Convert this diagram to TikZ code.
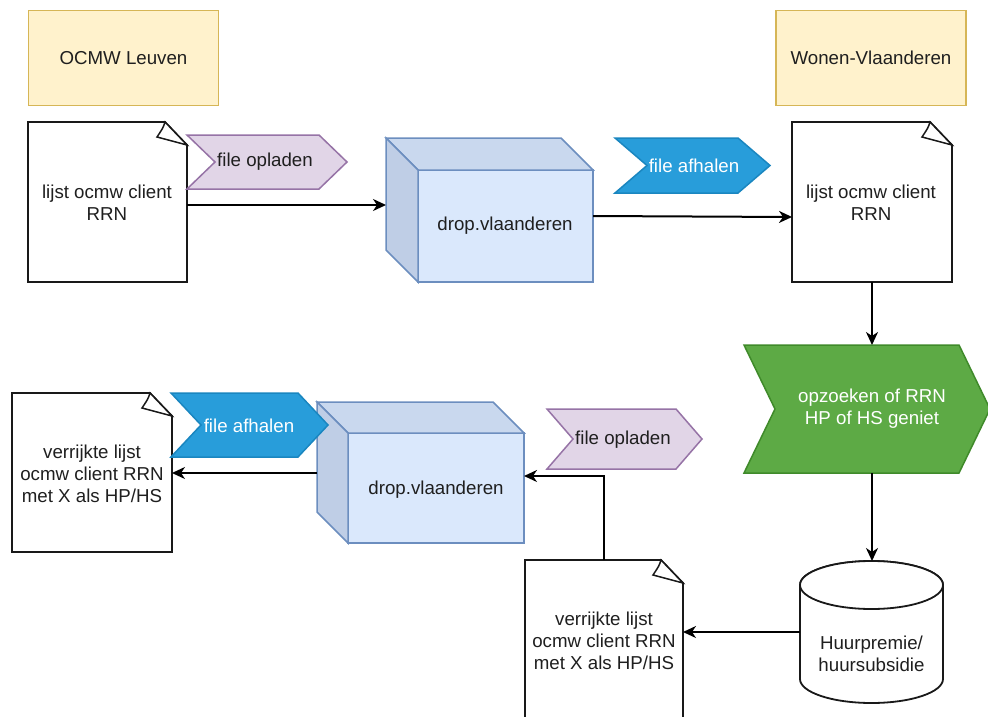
\documentclass[tikz,border=0pt]{standalone}
\usepackage{fontspec}
\setmainfont{Liberation Sans}
\usetikzlibrary{arrows.meta}
\definecolor{yfill}{HTML}{FFF2CC}
\definecolor{ydraw}{HTML}{D6B656}
\definecolor{pfill}{HTML}{E1D5E7}
\definecolor{pdraw}{HTML}{9673A6}
\definecolor{bfill}{HTML}{289DDA}
\definecolor{bdraw}{HTML}{1A86C0}
\definecolor{gfill}{HTML}{5DAA45}
\definecolor{gdraw}{HTML}{3F8A2A}
\definecolor{cfill}{HTML}{DAE8FC}
\definecolor{ctop}{HTML}{C9D8EE}
\definecolor{cside}{HTML}{BFCEE6}
\definecolor{cdraw}{HTML}{6C8EBF}
\tikzset{
  lbl/.style={font=\fontsize{18.7}{22}\selectfont, align=center, inner sep=0pt, text=black!88},
  wlbl/.style={lbl, text=white},
  ybox/.style={lbl, draw=ydraw, fill=yfill, line width=1.8pt, minimum width=190pt, minimum height=95pt},
  docline/.style={draw=black!90, line width=1.8pt, fill=white, line join=miter},
  cubeline/.style={draw=cdraw, line width=1.5pt, line join=miter},
  conn/.style={draw=black, line width=2pt, -{Stealth[length=13pt,width=12pt,inset=4pt]}}
}
\newcommand{\mydoc}[4]{%
  \draw[docline] (#1,#2) -- ({#3-22},#2) -- (#3,{#2+23}) -- (#3,#4) -- (#1,#4) -- cycle;
  \draw[docline, line width=1.5pt] ({#3-22},#2) .. controls ({#3-24},{#2+6}) .. ({#3-30},{#2+15}) -- (#3,{#2+23}) -- cycle;
}
\newcommand{\mycube}[5]{%
  \draw[cubeline, fill=cfill] ({#1+#5},{#2+#5}) rectangle (#3,#4);
  \draw[cubeline, fill=ctop] (#1,#2) -- ({#3-#5},#2) -- (#3,{#2+#5}) -- ({#1+#5},{#2+#5}) -- cycle;
  \draw[cubeline, fill=cside] (#1,#2) -- ({#1+#5},{#2+#5}) -- ({#1+#5},#4) -- (#1,{#4-#5}) -- cycle;
}
\newcommand{\mystep}[7]{%
  \draw[draw=#7, fill=#6, line width=1.5pt, line join=miter] (#1,#2) -- ({#3-#5},#2) -- (#3,{(#2+#4)/2}) -- ({#3-#5},#4) -- (#1,#4) -- ({#1+#5},{(#2+#4)/2}) -- cycle;
}
\begin{document}
\begin{tikzpicture}[x=1pt,y=-1pt]
\useasboundingbox (0,0) rectangle (988,717);
\fill[white] (0,0) rectangle (988,717);

% headers
\node[ybox] (ocmw) at (123.5,58) {OCMW Leuven};
\node[ybox] (wonen) at (871,58) {Wonen-Vlaanderen};

% top row
\mydoc{28}{122}{187}{282}
\node[lbl] (doc1) at (107,203) {lijst ocmw client\\RRN};
\mystep{187}{135}{347}{189}{28}{pfill}{pdraw}
\node[lbl] (up1) at (265,162) {file opladen};
\mycube{386}{138}{593}{282}{32}
\node[lbl] (cube1) at (505,226) {drop.vlaanderen};
\mystep{615}{138}{770}{193}{32}{bfill}{bdraw}
\node[wlbl] (down1) at (694,166) {file afhalen};
\mydoc{792}{122}{952}{282}
\node[lbl] (doc2) at (871,203) {lijst ocmw client\\RRN};

% green step
\mystep{744}{345}{990}{473}{31}{gfill}{gdraw}
\node[wlbl] (search) at (872,409) {opzoeken of RRN\\HP of HS geniet};

% cylinder
\draw[docline] (800,585) -- (800,679) arc[start angle=180, end angle=0, x radius=71.5, y radius=24] -- (943,585) arc[start angle=0, end angle=-180, x radius=71.5, y radius=24] -- cycle;
\draw[docline] (871.5,585) ellipse[x radius=71.5, y radius=24];
\node[lbl] (db) at (871.5,654) {Huurpremie/\\huursubsidie};

% bottom row
\mydoc{525}{560}{683}{740}
\node[lbl] (doc4) at (604,641) {verrijkte lijst\\ocmw client RRN\\met X als HP/HS};
\mystep{547}{409}{702}{469}{26}{pfill}{pdraw}
\node[lbl] (up2) at (623,440) {file opladen};
\mycube{317}{402}{524}{543}{31}
\node[lbl] (cube2) at (436,490) {drop.vlaanderen};
\mydoc{12}{393}{172}{552}
\node[lbl] (doc3) at (92,474) {verrijkte lijst\\ocmw client RRN\\met X als HP/HS};
\mystep{171}{393}{328}{457}{30}{bfill}{bdraw}
\node[wlbl] (down2) at (249,426) {file afhalen};

% connection points
\coordinate (d1E) at (187,205);
\coordinate (c1W) at (386,205);
\coordinate (c1E) at (593,216);
\coordinate (d2W) at (792,217);
\coordinate (d2S) at (872,282);
\coordinate (gN) at (872,345);
\coordinate (gS) at (872,473);
\coordinate (dbN) at (872,561);
\coordinate (dbW) at (800,632);
\coordinate (d4E) at (683,632);
\coordinate (d4N) at (604,560);
\coordinate (c2E) at (524,476);
\coordinate (c2W) at (317,473);
\coordinate (d3E) at (172,473);

\draw[conn] (d1E) -- (c1W);
\draw[conn] (c1E) -- (d2W);
\draw[conn] (d2S) -- (gN);
\draw[conn] (gS) -- (dbN);
\draw[conn] (dbW) -- (d4E);
\draw[conn] (d4N) |- (c2E);
\draw[conn] (c2W) -- (d3E);
\end{tikzpicture}
\end{document}
